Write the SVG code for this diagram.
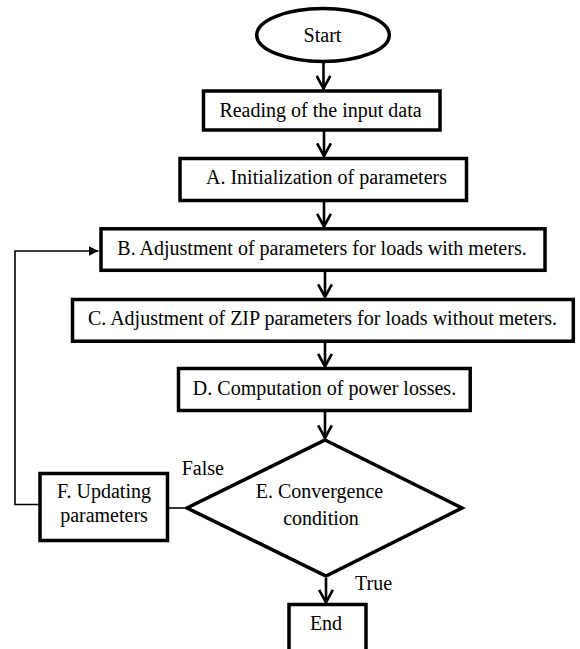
<svg xmlns="http://www.w3.org/2000/svg" width="580" height="649" viewBox="0 0 580 649">
<style>
  .shape { fill: #fff; stroke: #000; stroke-width: 3.5; stroke-linejoin: miter; }
  .lbl { font-family: "Liberation Serif", "Times New Roman", serif; font-size: 20px; fill: #000; }
  .mid { text-anchor: middle; }
  .flow { fill: none; stroke: #000; stroke-width: 2.6; }
  .thin { fill: none; stroke: #000; stroke-width: 1.6; }
</style>
<defs>
  <marker id="open" viewBox="0 0 14 14" refX="12.5" refY="7" markerWidth="16" markerHeight="16" markerUnits="userSpaceOnUse" orient="auto">
    <path d="M1.5,1 L12.5,7 L1.5,13" fill="none" stroke="#000" stroke-width="2.3"/>
  </marker>
  <marker id="tri" viewBox="0 0 10 10" refX="10" refY="5" markerWidth="10" markerHeight="10" markerUnits="userSpaceOnUse" orient="auto">
    <path d="M0,0 L10,5 L0,10 z" fill="#000"/>
  </marker>
</defs>

<g id="connectors">
  <line class="flow" x1="323.5" y1="63" x2="323.5" y2="88.5" marker-end="url(#open)"/>
  <line class="flow" x1="324" y1="131" x2="324" y2="156" marker-end="url(#open)"/>
  <line class="flow" x1="324" y1="202" x2="324" y2="226.5" marker-end="url(#open)"/>
  <line class="flow" x1="325" y1="272" x2="325" y2="297" marker-end="url(#open)"/>
  <line class="flow" x1="325" y1="343" x2="325" y2="366.5" marker-end="url(#open)"/>
  <line class="flow" x1="325" y1="412" x2="325" y2="438" marker-end="url(#open)"/>
  <line class="flow" x1="326" y1="578" x2="326" y2="602.5" marker-end="url(#open)"/>
  <line class="thin" x1="184" y1="508" x2="168" y2="508"/>
  <path class="thin" d="M39,504.5 H15 V251 H98.5" marker-end="url(#tri)"/>
</g>

<g id="start">
  <ellipse class="shape" cx="323" cy="35" rx="66.3" ry="26.5"/>
  <text class="lbl mid" x="322.5" y="41.7">Start</text>
</g>

<g id="reading">
  <rect class="shape" x="203.5" y="91" width="236.5" height="39"/>
  <text class="lbl mid" x="320.5" y="117">Reading of the input data</text>
</g>

<g id="nodeA">
  <rect class="shape" x="180" y="158.5" width="286.5" height="42"/>
  <text class="lbl mid" x="326.5" y="183.5">A. Initialization of parameters</text>
</g>

<g id="nodeB">
  <rect class="shape" x="101" y="228.8" width="444" height="41.5"/>
  <text class="lbl mid" x="322" y="254.5">B. Adjustment of parameters for loads with meters.</text>
</g>

<g id="nodeC">
  <rect class="shape" x="72.5" y="299.5" width="500.8" height="41.7"/>
  <text class="lbl mid" x="322.5" y="324.5">C. Adjustment of ZIP parameters for loads without meters.</text>
</g>

<g id="nodeD">
  <rect class="shape" x="178.5" y="368.5" width="291.7" height="42"/>
  <text class="lbl mid" x="324.5" y="394.5">D. Computation of power losses.</text>
</g>

<g id="nodeE">
  <polygon class="shape" points="325,440 462,508 326,576 187,508"/>
  <text class="lbl mid" x="319.5" y="498.3">E. Convergence</text>
  <text class="lbl mid" x="321" y="525">condition</text>
</g>

<g id="nodeF">
  <rect class="shape" x="40" y="473.5" width="127.5" height="67"/>
  <text class="lbl mid" x="104" y="498.3">F. Updating</text>
  <text class="lbl mid" x="104" y="521.7">parameters</text>
</g>

<g id="end">
  <rect class="shape" x="289" y="604.5" width="77" height="60"/>
  <text class="lbl mid" x="326" y="629.5">End</text>
</g>

<g id="edge-labels">
  <text class="lbl" x="181.7" y="475">False</text>
  <text class="lbl" x="355" y="590">True</text>
</g>
</svg>
